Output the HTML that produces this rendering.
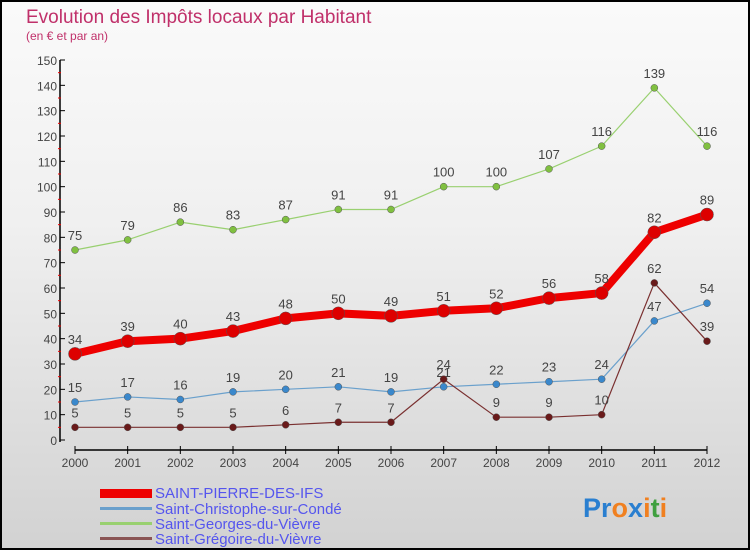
<!DOCTYPE html>
<html><head><meta charset="utf-8"><style>
body{margin:0}
#c{width:750px;height:550px;position:relative;box-sizing:border-box;border:2px solid #000;background:linear-gradient(#fafafa,#f0f0f0 40%,#d2d2d2);font-family:"Liberation Sans",sans-serif;overflow:hidden}
svg text{font-family:"Liberation Sans",sans-serif}
</style></head><body>
<div id="c">
<svg id="s" width="750" height="550" style="position:absolute;left:-2px;top:-2px">
<text x="26" y="23" font-size="19" fill="#c0306a">Evolution des Impôts locaux par Habitant</text>
<text x="26" y="40" font-size="12" fill="#c0306a">(en € et par an)</text>
<g id="axes"></g><g id="series"></g>
<g>
<rect x="100" y="489" width="52" height="9" fill="#e00"/>
<text x="155" y="498" font-size="15" fill="#5555ee">SAINT-PIERRE-DES-IFS</text>
<rect x="100" y="507" width="52" height="3" fill="#6aa0cc"/>
<text x="155" y="514" font-size="15" fill="#5555ee">Saint-Christophe-sur-Condé</text>
<rect x="100" y="522" width="52" height="3" fill="#99d070"/>
<text x="155" y="529" font-size="15" fill="#5555ee">Saint-Georges-du-Vièvre</text>
<rect x="100" y="537" width="52" height="3" fill="#8a5555"/>
<text x="155" y="544" font-size="15" fill="#5555ee">Saint-Grégoire-du-Vièvre</text>
</g>
<text x="583" y="517" font-size="27" font-weight="bold"><tspan fill="#2a7fd0">Pr</tspan><tspan fill="#f08020">o</tspan><tspan fill="#2a7fd0">x</tspan><tspan fill="#f08020">i</tspan><tspan fill="#40a040">t</tspan><tspan fill="#f08020">i</tspan></text>
</svg>
</div>
<script>
const years=[2000,2001,2002,2003,2004,2005,2006,2007,2008,2009,2010,2011,2012];
const yTicks=[0,10,20,30,40,50,60,70,80,90,100,110,120,130,140,150];
const stPierre=[34,39,40,43,48,50,49,51,52,56,58,82,89];
const stChristophe=[15,17,16,19,20,21,19,21,22,23,24,47,54];
const stGeorges=[75,79,86,83,87,91,91,100,100,107,116,139,116];
const stGregoire=[5,5,5,5,6,7,7,24,9,9,10,62,39];
const NS="http://www.w3.org/2000/svg";
const X=i=>75+i*(707-75)/(years.length-1);
const Y=v=>440-v*(380/150);
function mk(p,t,a){const e=document.createElementNS(NS,t);for(const k in a)e.setAttribute(k,a[k]);p.appendChild(e);return e;}
const ax=document.getElementById('axes');
mk(ax,'line',{x1:60,y1:60,x2:60,y2:442,stroke:'#000','stroke-width':1.5});
yTicks.forEach(v=>{
 mk(ax,'line',{x1:60,y1:Y(v),x2:65,y2:Y(v),stroke:'#000'});
 if(v<150)mk(ax,'line',{x1:58,y1:Y(v+5),x2:61,y2:Y(v+5),stroke:'#e00'});
 const t=mk(ax,'text',{x:57,y:Y(v)+5,'text-anchor':'end','font-size':12,fill:'#444'});t.textContent=v;
 
 
});
mk(ax,'line',{x1:75,y1:450,x2:707,y2:450,stroke:'#000','stroke-width':1.5});
years.forEach((y,i)=>{
 mk(ax,'line',{x1:X(i),y1:446,x2:X(i),y2:454,stroke:'#000'});
 const t=mk(ax,'text',{x:X(i),y:467,'text-anchor':'middle','font-size':12,fill:'#444'});t.textContent=y;
 
 
});
const sg=document.getElementById('series');
function series(name,data,color,w,r,dot){
 const g=mk(sg,'g',{});
 
 
 mk(g,'polyline',{points:data.map((v,i)=>X(i)+','+Y(v)).join(' '),fill:'none',stroke:color,'stroke-width':w,'stroke-linejoin':'round'});
 data.forEach((v,i)=>{
  const c=mk(g,'circle',{cx:X(i),cy:Y(v),r:r,fill:dot,stroke:'#555','stroke-width':0.5});
  
  
  const t=mk(g,'text',{x:X(i),y:Y(v)-10,'text-anchor':'middle','font-size':13,fill:'#444'});t.textContent=v;
  
  
 });
}
series('saint-georges',stGeorges,'#99d070',1.2,3.5,'#80c040');
series('saint-christophe',stChristophe,'#6aa0cc',1.2,3.5,'#3a88cc');
series('saint-gregoire',stGregoire,'#7a3030',1.2,3.5,'#6a1a1a');
series('saint-pierre',stPierre,'#ee0000',8,6.5,'#dd0000');
</script>
</body></html>
